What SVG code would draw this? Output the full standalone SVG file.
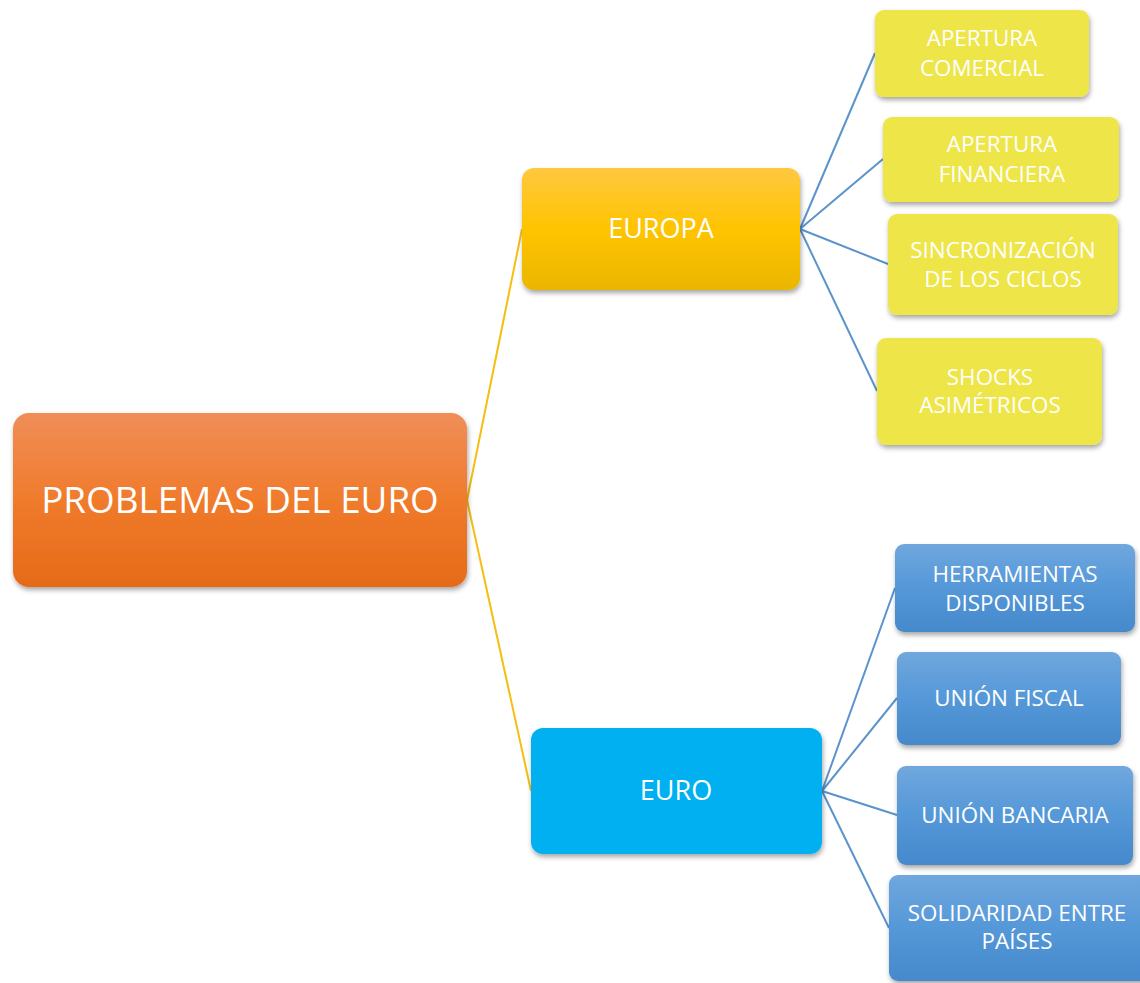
<svg xmlns="http://www.w3.org/2000/svg" width="1140" height="983" viewBox="0 0 1140 983">
<defs>
<linearGradient id="gRoot" x1="0" y1="0" x2="0" y2="1"><stop offset="0" stop-color="#F08E58"/><stop offset="0.5" stop-color="#F07B2C"/><stop offset="1" stop-color="#E66A18"/></linearGradient>
<linearGradient id="gEur" x1="0" y1="0" x2="0" y2="1"><stop offset="0" stop-color="#FFC840"/><stop offset="0.5" stop-color="#FFC400"/><stop offset="1" stop-color="#EAB600"/></linearGradient>
<linearGradient id="gBlue" x1="0" y1="0" x2="0" y2="1"><stop offset="0" stop-color="#70A7DE"/><stop offset="0.5" stop-color="#5598D8"/><stop offset="1" stop-color="#4589CC"/></linearGradient>
<filter id="sh" x="-10%" y="-10%" width="125%" height="130%"><feDropShadow dx="1" dy="3" stdDeviation="2.5" flood-color="#000" flood-opacity="0.35"/></filter>
</defs>
<style>
text{font-family:"Open Sans","Liberation Sans",sans-serif;fill:#fff;text-anchor:middle}
.root{font-size:36.8px}
.mid{font-size:27px}
.leaf{font-size:22.4px}
.cy{stroke:#F5BE10;stroke-width:2;fill:none}
.cb{stroke:#5B93CC;stroke-width:2;fill:none}
.yl{fill:#EEE548}
</style>
<g id="connectors">
<line class="cy" x1="467" y1="500" x2="522" y2="229"/>
<line class="cy" x1="467" y1="500" x2="531" y2="791"/>
<line class="cb" x1="800" y1="229" x2="875" y2="53"/>
<line class="cb" x1="800" y1="229" x2="883" y2="159"/>
<line class="cb" x1="800" y1="229" x2="888" y2="264"/>
<line class="cb" x1="800" y1="229" x2="877" y2="391"/>
<line class="cb" x1="822" y1="791" x2="895" y2="588"/>
<line class="cb" x1="822" y1="791" x2="897" y2="698"/>
<line class="cb" x1="822" y1="791" x2="897" y2="815"/>
<line class="cb" x1="822" y1="791" x2="889" y2="928"/>
</g>
<g id="root"><rect x="13" y="413" width="454" height="174" rx="16" fill="url(#gRoot)" filter="url(#sh)"/><text class="root" x="240" y="513">PROBLEMAS DEL EURO</text></g>
<g id="europa"><rect x="522" y="168" width="278" height="122" rx="12" fill="url(#gEur)" filter="url(#sh)"/><text class="mid" x="661" y="238">EUROPA</text></g>
<g id="euro"><rect x="531" y="728" width="291" height="126" rx="12" fill="#00B0F0" filter="url(#sh)"/><text class="mid" x="676" y="800">EURO</text></g>
<g id="apertura-comercial"><rect class="yl" x="875" y="10" width="214" height="87" rx="9" filter="url(#sh)"/><text class="leaf" x="982" y="46">APERTURA</text><text class="leaf" x="982" y="76">COMERCIAL</text></g>
<g id="apertura-financiera"><rect class="yl" x="883" y="117" width="236" height="85" rx="9" filter="url(#sh)"/><text class="leaf" x="1002" y="152">APERTURA</text><text class="leaf" x="1002" y="182">FINANCIERA</text></g>
<g id="sincronizacion"><rect class="yl" x="888" y="214" width="230" height="101" rx="9" filter="url(#sh)"/><text class="leaf" x="1003" y="258">SINCRONIZACIÓN</text><text class="leaf" x="1003" y="287">DE LOS CICLOS</text></g>
<g id="shocks"><rect class="yl" x="877" y="338" width="225" height="107" rx="9" filter="url(#sh)"/><text class="leaf" x="990" y="385">SHOCKS</text><text class="leaf" x="990" y="413">ASIMÉTRICOS</text></g>
<g id="herramientas"><rect x="895" y="544" width="240" height="88" rx="9" fill="url(#gBlue)" filter="url(#sh)"/><text class="leaf" x="1015" y="582">HERRAMIENTAS</text><text class="leaf" x="1015" y="611">DISPONIBLES</text></g>
<g id="union-fiscal"><rect x="897" y="652" width="224" height="93" rx="9" fill="url(#gBlue)" filter="url(#sh)"/><text class="leaf" x="1009" y="706">UNIÓN FISCAL</text></g>
<g id="union-bancaria"><rect x="897" y="766" width="236" height="99" rx="9" fill="url(#gBlue)" filter="url(#sh)"/><text class="leaf" x="1015" y="823">UNIÓN BANCARIA</text></g>
<g id="solidaridad"><rect x="889" y="875" width="260" height="106" rx="9" fill="url(#gBlue)" filter="url(#sh)"/><text class="leaf" x="1017" y="921">SOLIDARIDAD ENTRE</text><text class="leaf" x="1017" y="949">PAÍSES</text></g>
</svg>
